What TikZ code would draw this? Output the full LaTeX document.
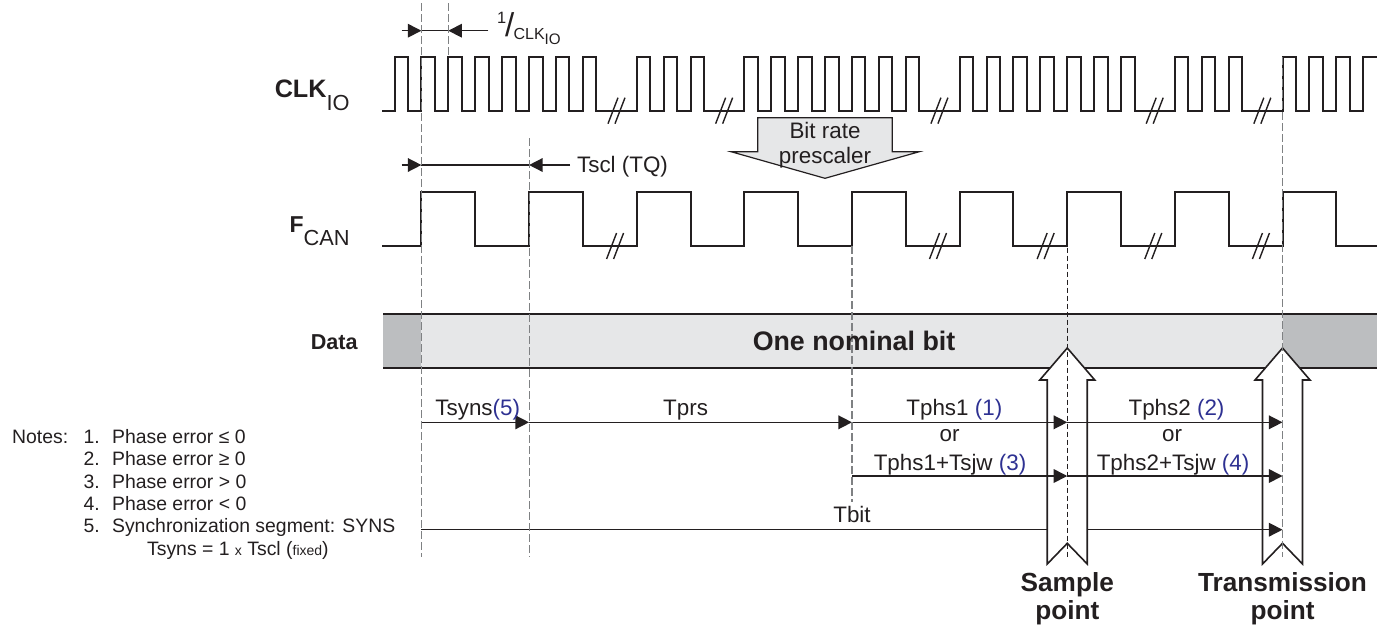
\documentclass[tikz,border=0pt]{standalone}
\usepackage{fontspec}
\setmainfont{Liberation Sans}
\usetikzlibrary{arrows.meta}
\definecolor{ink}{HTML}{231F20}
\definecolor{bluenum}{RGB}{46,49,146}
\definecolor{barlight}{HTML}{E6E7E8}
\definecolor{bardark}{HTML}{BCBEC0}
\definecolor{dashgray}{HTML}{7F8183}
\newcommand{\fsz}[1]{\fontsize{#1}{#1}\selectfont}
\begin{document}
\begin{tikzpicture}[x=0.5pt,y=-0.5pt,
  wave/.style={draw=ink,line width=1pt,line join=miter},
  brk/.style={draw=ink,line width=0.7pt},
  guide/.style={draw=dashgray,line width=0.55pt,dash pattern=on 4pt off 1.5pt},
  guideblack/.style={draw=ink,line width=0.45pt,dash pattern=on 2.5pt off 1.5pt},
  dimarrow/.style={draw=ink,line width=0.75pt,-{Triangle[length=6.8pt,width=6.8pt]}},
  dimline/.style={draw=ink,line width=0.75pt},
  blockarrow/.style={draw=ink,fill=white,line width=0.8pt,line join=miter},
  lbl/.style={text=ink,inner sep=0pt,font=\fsz{11.2}},
  bigbold/.style={text=ink,inner sep=0pt,font=\fsz{13.1}\bfseries},
  note/.style={text=ink,inner sep=0pt,anchor=base west,font=\fsz{9.7}}
]
\useasboundingbox (0,0) rectangle (1384,627);
\def\xo{394.5}\def\pp{26.91}\def\hh{13.455}
\def\lo{110.7}\def\hi{56.7}
\def\flo{246}\def\fhi{191.7}

% ---------- Data bar ----------
\fill[bardark] (383,314) rectangle (1377,368);
\fill[barlight] (421.4,314) rectangle (1282.5,368);
\draw[ink,line width=1pt] (383,314) -- (1377,314);
\draw[ink,line width=1pt] (383,368) -- (1377,368);

% ---------- CLK_IO waveform ----------
\draw[wave] (382,\lo)
  \foreach \k in {0,1,2,3,4,5,6,7,9,10,11,13,14,15,16,17,18,19,21,22,23,24,25,26,27,29,30,31,33,34,35}
  { -- ({\xo+\pp*\k},\lo) -- ({\xo+\pp*\k},\hi) -- ({\xo+\pp*\k+\hh},\hi) -- ({\xo+\pp*\k+\hh},\lo) }
  -- ({\xo+\pp*36},\lo) -- ({\xo+\pp*36},\hi) -- (1377,\hi);
\foreach \k in {8,12,20,28,32}{
  \draw[brk] ({\xo+\pp*\k+6.7-3.5-5},{\lo+13}) -- ++(10,-26);
  \draw[brk] ({\xo+\pp*\k+6.7+3.5-5},{\lo+13}) -- ++(10,-26);
}

% ---------- F_CAN waveform ----------
\draw[wave] (382,\flo)
  \foreach \k in {1,5,9,13,17,21,25,29,33}
  { -- ({\xo+\pp*\k},\flo) -- ({\xo+\pp*\k},\fhi) -- ({\xo+\pp*(\k+2)},\fhi) -- ({\xo+\pp*(\k+2)},\flo) }
  -- (1377,\flo);
\foreach \k in {8,20,24,28,32}{
  \draw[brk] ({\xo+\pp*\k+5.3-3.5-5},{\flo+13}) -- ++(10,-26);
  \draw[brk] ({\xo+\pp*\k+5.3+3.5-5},{\flo+13}) -- ++(10,-26);
}

% ---------- Bit rate prescaler arrow ----------
\draw[fill=barlight,draw=ink,line width=0.6pt,line join=miter]
  (757.7,117.7) -- (892.3,117.7) -- (892.3,151.7) -- (919.3,151.7) -- (825,178.3)
  -- (731,151.7) -- (757.7,151.7) -- cycle;
\node[lbl,anchor=base] (bitrate) at (825,138.3) {Bit rate};
\node[lbl,anchor=base] (prescaler) at (825,163.3) {prescaler};

% ---------- Coordinates ----------
\coordinate (a1) at (421.4,422.3);
\coordinate (a2) at (529.05,422.3);
\coordinate (a3) at (852,422.3);
\coordinate (a4) at (1067.25,422.3);
\coordinate (a5) at (1282.5,422.3);
\coordinate (b3) at (852,476);
\coordinate (b4) at (1067.25,476);
\coordinate (b5) at (1282.5,476);
\coordinate (t1) at (421.4,529.7);
\coordinate (t2) at (1047.25,529.7);
\coordinate (t3) at (1087.25,529.7);
\coordinate (t5) at (1282.5,529.7);

% ---------- Block arrows ----------
\foreach \c in {1067.25,1282.5}{
  \draw[blockarrow] (\c,348) -- ({\c+27.5},380) -- ({\c+20},380) -- ({\c+20},564)
    -- (\c,543.3) -- ({\c-20},564) -- ({\c-20},380) -- ({\c-27.5},380) -- cycle;
}

% ---------- Segment arrows ----------
\draw[dimarrow] (a1) -- (a2);
\draw[dimarrow] (a2) -- (a3);
\draw[dimarrow] (a3) -- (a4);
\draw[dimarrow] (a4) -- (a5);
\draw[dimarrow] (b3) -- (b4);
\draw[dimarrow] (b4) -- (b5);
\draw[dimline] (t1) -- (t2);
\draw[dimarrow] (t3) -- (t5);

% ---------- Top dimension arrows ----------
\coordinate (c0) at (401.7,30.7);
\coordinate (c1) at (421.4,30.7);
\coordinate (c2) at (448.3,30.7);
\coordinate (c3) at (488.3,30.7);
\draw[dimarrow] (c0) -- (c1);
\draw[dimline] (c1) -- (c2);
\draw[dimarrow] (c3) -- (c2);
\coordinate (s0) at (401.7,165);
\coordinate (s1) at (421.4,165);
\coordinate (s2) at (529.05,165);
\coordinate (s3) at (570,165);
\draw[dimarrow] (s0) -- (s1);
\draw[dimline] (s1) -- (s2);
\draw[dimarrow] (s3) -- (s2);

% ---------- Dashed guides ----------
\draw[guide] (421.4,3) -- (421.4,557);
\draw[guide] (448.3,3) -- (448.3,57);
\draw[guide] (529.05,138) -- (529.05,557);
\draw[guide] (852,246) -- (852,502);
\draw[guideblack] (1067.25,191.7) -- (1067.25,557);
\draw[guide] (1282.5,57) -- (1282.5,557);

% ---------- Labels ----------
\node[text=ink,inner sep=0pt,anchor=base east] (clk) at (350,97.3)
  {{\fsz{12.6}\bfseries CLK}{\fsz{10.9}\raisebox{-6.35pt}{IO}}};
\node[text=ink,inner sep=0pt,anchor=base east] (fcan) at (350,232.7)
  {{\fsz{11.5}\bfseries F}{\fsz{10.9}\raisebox{-6.5pt}{CAN}}};
\node[text=ink,inner sep=0pt,anchor=base east,font=\fsz{10.8}\bfseries] (data) at (358,349) {Data};
\node[text=ink,inner sep=0pt,anchor=base west] (period) at (496.7,39.3)
  {{\fsz{8.2}\raisebox{8pt}{1}}\kern-0.6pt{\fsz{16.5}\raisebox{1.4pt}{/}}\kern-0.3pt{\fsz{8}CLK}{\fsz{7.6}\raisebox{-2.35pt}{IO}}};
\node[lbl,anchor=base west] (tscl) at (576.7,172.7) {Tscl (TQ)};
\node[bigbold,anchor=base,font=\fsz{13.4}\bfseries] (nominal) at (854,350.7) {One nominal bit};

\node[lbl,anchor=base west] (tsyns) at (435,415) {Tsyns\textcolor{bluenum}{(5)}};
\node[lbl,anchor=base] (tprs) at (685.6,415) {Tprs};
\node[lbl,anchor=base] (tphs1) at (954.3,415) {Tphs1 \textcolor{bluenum}{(1)}};
\node[lbl,anchor=base] (or1) at (949.5,441.7) {or};
\node[lbl,anchor=base] (tphs1b) at (950,470) {Tphs1+Tsjw \textcolor{bluenum}{(3)}};
\node[lbl,anchor=base] (tphs2) at (1176.5,415) {Tphs2 \textcolor{bluenum}{(2)}};
\node[lbl,anchor=base] (or2) at (1172,441.7) {or};
\node[lbl,anchor=base] (tphs2b) at (1173,470) {Tphs2+Tsjw \textcolor{bluenum}{(4)}};
\node[lbl,anchor=base] (tbit) at (852,522) {Tbit};

\node[bigbold,anchor=base] (sample1) at (1067.25,591.7) {Sample};
\node[bigbold,anchor=base] (sample2) at (1067.25,619) {point};
\node[bigbold,anchor=base] (trans1) at (1282.5,591.7) {Transmission};
\node[bigbold,anchor=base] (trans2) at (1282.5,619) {point};

% ---------- Notes ----------
\node[note] (notes) at (11.7,443.3) {Notes:};
\node[note] (n1) at (83.3,443.3) {1.};
\node[note] (n1t) at (111.7,443.3) {Phase error ≤ 0};
\node[note] (n2) at (83.3,465.7) {2.};
\node[note] (n2t) at (111.7,465.7) {Phase error ≥ 0};
\node[note] (n3) at (83.3,488) {3.};
\node[note] (n3t) at (111.7,488) {Phase error > 0};
\node[note] (n4) at (83.3,510.4) {4.};
\node[note] (n4t) at (111.7,510.4) {Phase error < 0};
\node[note] (n5) at (83.3,532.7) {5.};
\node[note] (n5t) at (111.7,532.7) {Synchronization segment: SYNS};
\node[note] (n6t) at (146.7,555) {Tsyns = 1 {\fsz{7}x} Tscl ({\fsz{7}fixed})};
\end{tikzpicture}
\end{document}
